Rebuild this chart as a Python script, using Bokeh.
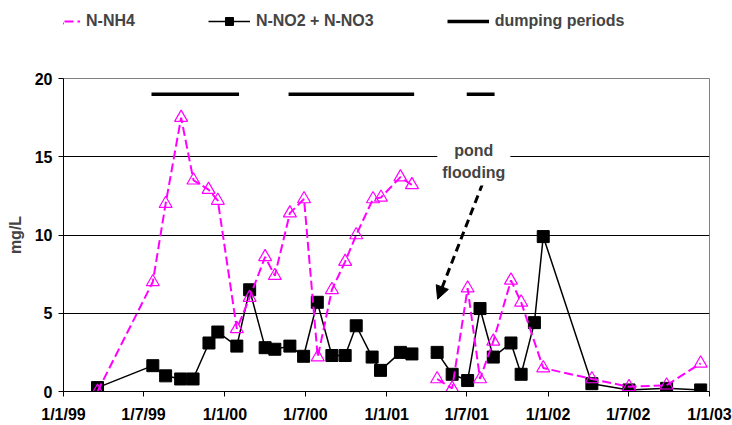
import numpy as np
import pandas as pd
from bokeh.plotting import figure
from bokeh.layouts import column
from bokeh.models import (Range1d, FixedTicker, Legend, LegendItem, Arrow,
                          NormalHead, Label)
from bokeh.embed import file_html
from bokeh.resources import INLINE

ORIGIN = pd.Timestamp("1999-01-01")


def days(ds):
    return [(pd.Timestamp(d) - ORIGIN).days for d in ds]


# ---------------- data ----------------
nh4_dates = ["1999-03-19", "1999-07-22", "1999-08-20", "1999-09-24", "1999-10-22",
             "1999-11-25", "1999-12-16", "2000-01-28", "2000-02-26", "2000-04-01",
             "2000-04-23", "2000-05-27", "2000-06-28", "2000-07-29", "2000-08-30",
             "2000-09-29", "2000-10-24", "2000-12-01", "2000-12-19", "2001-02-01",
             "2001-02-27", "2001-03-25", "2001-04-25", "2001-05-29", "2001-07-03",
             "2001-07-31", "2001-08-30", "2001-10-09", "2001-11-01", "2001-12-21",
             "2002-04-10", "2002-07-03", "2002-09-26", "2002-12-12"]
nh4_values = [0.0, 7.0, 12.0, 17.5, 13.5,
              12.9, 12.2, 4.0, 6.0, 8.6,
              7.4, 11.4, 12.3, 2.2, 6.5,
              8.3, 10.0, 12.3, 12.4, 13.7,
              13.2, np.nan, 0.8, 0.2, 6.6,
              0.8, 3.2, 7.1, 5.7, 1.5,
              0.8, 0.3, 0.4, 1.8]

no3_dates = ["1999-03-19", "1999-07-22", "1999-08-20", "1999-09-23", "1999-10-21",
             "1999-11-26", "1999-12-16", "2000-01-28", "2000-02-26", "2000-04-01",
             "2000-04-23", "2000-05-27", "2000-06-27", "2000-07-28", "2000-08-30",
             "2000-09-29", "2000-10-24", "2000-11-29", "2000-12-18", "2001-02-01",
             "2001-02-27", "2001-03-25", "2001-04-25", "2001-05-29", "2001-07-03",
             "2001-07-31", "2001-08-30", "2001-10-09", "2001-11-01", "2001-12-01",
             "2001-12-21", "2002-04-10", "2002-07-03", "2002-09-26", "2002-12-12"]
no3_values = [0.25, 1.65, 1.0, 0.8, 0.8,
              3.1, 3.8, 2.9, 6.5, 2.8,
              2.7, 2.9, 2.25, 5.7, 2.3,
              2.3, 4.2, 2.2, 1.35, 2.5,
              2.4, np.nan, 2.5, 1.1, 0.7,
              5.3, 2.2, 3.1, 1.1, 4.4,
              9.9, 0.5, 0.1, 0.2, 0.1]

dump_starts = ["1999-07-19", "2000-05-24", "2001-07-01"]
dump_ends = ["2000-02-02", "2001-03-04", "2001-09-02"]
dump_level = 19

tick_dates = ["1999-01-01", "1999-07-01", "2000-01-01", "2000-07-01", "2001-01-01",
              "2001-07-01", "2002-01-01", "2002-07-01", "2003-01-01"]
tick_labels = ["1/1/99", "1/7/99", "1/1/00", "1/7/00", "1/1/01",
               "1/7/01", "1/1/02", "1/7/02", "1/1/03"]

y_ticks = [0, 5, 10, 15, 20]

series_names = ["N-NH4", "N-NO2 + N-NO3", "dumping periods"]
note_text = "pond\nflooding"
note_pos = ("2001-07-17", 14.7)
arrow_from = ("2001-08-06", 13.3)
arrow_to = ("2001-04-26", 5.9)

# ---------------- styles ----------------
FONT = "Liberation Sans"
MAGENTA = "#FF00FF"
nh4_line_style = dict(line_color=MAGENTA, line_width=2, line_dash="9 4")
nh4_pt_style = dict(marker="triangle", size=13, fill_color=None,
                    line_color=MAGENTA, line_width=1.2)
no3_line_style = dict(line_color="black", line_width=1.5)
no3_pt_style = dict(marker="square", size=12, fill_color="black", line_color="black")
dump_style = dict(line_color="black", line_width=3.5)

LEGEND_H = 47
tick_days = days(tick_dates)

# ---------------- main figure ----------------
p = figure(width=732, height=425 - LEGEND_H, output_backend="svg",
           toolbar_location=None,
           x_range=Range1d(tick_days[0], tick_days[-1]), y_range=Range1d(0, 20),
           min_border_left=63, min_border_right=23, min_border_top=78 - LEGEND_H,
           min_border_bottom=32)
p.background_fill_color = "white"
p.border_fill_color = "white"
p.outline_line_color = "#808080"
p.outline_line_width = 1

p.xaxis.ticker = FixedTicker(ticks=tick_days)
p.xaxis.major_label_overrides = {d: l for d, l in zip(tick_days, tick_labels)}
p.yaxis.ticker = FixedTicker(ticks=y_ticks)
for ax in (p.xaxis, p.yaxis):
    ax.axis_line_color = "black"
    ax.axis_line_width = 1
    ax.major_tick_line_color = "black"
    ax.major_tick_in = 0
    ax.major_tick_out = 5
    ax.minor_tick_line_color = None
    ax.major_label_text_font = FONT
    ax.major_label_text_font_style = "bold"
    ax.major_label_text_font_size = "16px"
    ax.major_label_text_color = "black"
p.xaxis.major_label_standoff = 9
p.yaxis.major_label_standoff = 6
p.yaxis.axis_label = "mg/L"
p.yaxis.axis_label_text_font = FONT
p.yaxis.axis_label_text_font_style = "bold"
p.yaxis.axis_label_text_font_size = "16px"
p.yaxis.axis_label_standoff = 8

p.xgrid.grid_line_color = None
p.ygrid.grid_line_color = "black"
p.ygrid.grid_line_width = 1

ds, de = days(dump_starts), days(dump_ends)
p.multi_line(xs=[[a, b] for a, b in zip(ds, de)],
             ys=[[dump_level, dump_level] for _ in ds], **dump_style)

nx = days(no3_dates)
p.line(nx, no3_values, **no3_line_style)
p.scatter(nx, no3_values, **no3_pt_style)

hx = days(nh4_dates)
p.line(hx, nh4_values, **nh4_line_style)
p.scatter(hx, nh4_values, **nh4_pt_style)

p.add_layout(Arrow(x_start=days([arrow_from[0]])[0], y_start=arrow_from[1],
                   x_end=days([arrow_to[0]])[0], y_end=arrow_to[1],
                   line_color="black", line_width=3, line_dash="8 5",
                   end=NormalHead(size=13, fill_color="black", line_color="black",
                                  line_width=1)))
p.add_layout(Label(x=days([note_pos[0]])[0], y=note_pos[1], text=note_text,
                   text_align="center", text_baseline="middle",
                   text_font=FONT, text_font_style="bold", text_font_size="16px",
                   text_line_height=1.25,
                   background_fill_color="white", padding=5))

# ---------------- legend strip (placeholder renderers, no visible data) ----------------
lg = figure(width=732, height=LEGEND_H, output_backend="svg", toolbar_location=None,
            x_range=Range1d(0, 1), y_range=Range1d(0, 1),
            x_axis_location=None, y_axis_location=None,
            min_border=0, min_border_left=0, min_border_right=0,
            min_border_top=0, min_border_bottom=0)
lg.grid.grid_line_color = None
lg.outline_line_color = None
lg.background_fill_color = "white"
lg.border_fill_color = "white"
nan = [np.nan]
r1a = lg.line(nan, nan, **nh4_line_style)
r1b = lg.scatter(nan, nan, **nh4_pt_style)
r2a = lg.line(nan, nan, **no3_line_style)
r2b = lg.scatter(nan, nan, **no3_pt_style)
r3 = lg.line(nan, nan, **dump_style)

legend = Legend(items=[LegendItem(label=series_names[0], renderers=[r1a, r1b]),
                       LegendItem(label=series_names[1], renderers=[r2a, r2b]),
                       LegendItem(label=series_names[2], renderers=[r3])],
                location=(-25, 16), orientation="horizontal",
                glyph_width=42, glyph_height=20, label_standoff=6, spacing=73,
                padding=0, margin=0, border_line_alpha=0, background_fill_alpha=0,
                label_text_font=FONT, label_text_font_style="bold",
                label_text_font_size="16px")
lg.add_layout(legend)

layout = column(lg, p, spacing=0)
open("out.html", "w").write(file_html(layout, INLINE))
